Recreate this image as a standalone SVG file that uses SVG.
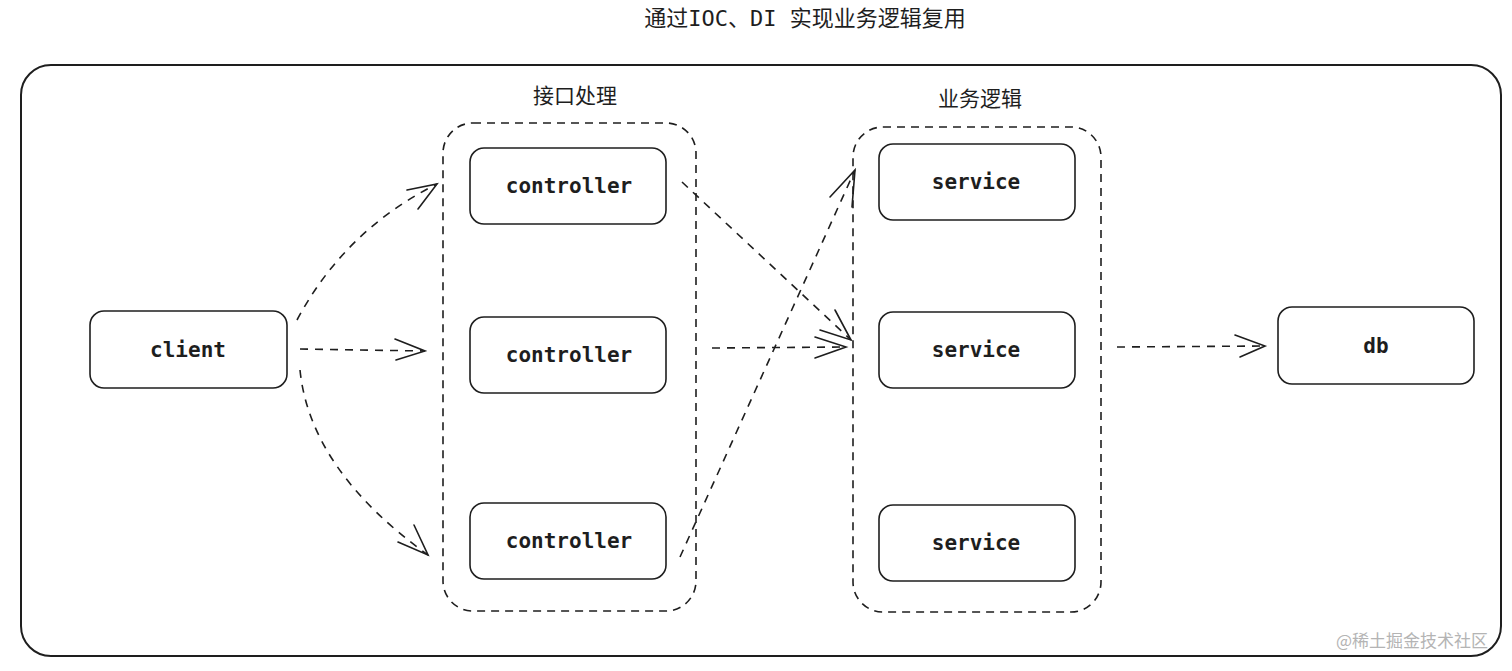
<svg xmlns="http://www.w3.org/2000/svg" width="1512" height="671" viewBox="0 0 1512 671">
<style>
.box{fill:#fff;stroke:#1e1e1e;stroke-width:1.6}
.grp{fill:none;stroke:#1e1e1e;stroke-width:1.6;stroke-dasharray:8 6}
.lbl{font-family:"DejaVu Sans Mono","Liberation Mono","Noto Sans CJK SC",monospace;font-size:21px;font-weight:bold;fill:#1e1e1e;text-anchor:middle;dominant-baseline:central}
.cap{font-family:"Noto Sans CJK SC",sans-serif;font-size:21px;fill:#1e1e1e;text-anchor:middle;dominant-baseline:central}
.conn path{fill:none;stroke:#1e1e1e;stroke-width:1.6;stroke-dasharray:8 7}
.conn .ah{stroke-dasharray:none;stroke-linecap:round}
</style>
<rect width="1512" height="671" fill="#fff"/>
<text x="805" y="18" class="cap" style="font-family:'DejaVu Sans Mono','Noto Sans CJK SC',monospace;font-size:22px">通过IOC、DI 实现业务逻辑复用</text>
<g id="frame"><rect x="21" y="65" width="1480" height="591" rx="30" fill="none" stroke="#1e1e1e" stroke-width="2"/></g>
<g id="group-interface"><rect class="grp" x="443" y="123" width="253" height="488" rx="30"/><text class="cap" x="575" y="94">接口处理</text></g>
<g id="group-business"><rect class="grp" x="853" y="127" width="248" height="485" rx="30"/><text class="cap" x="980" y="97">业务逻辑</text></g>
<g id="client"><rect class="box" x="90" y="311" width="197" height="77" rx="14"/><text class="lbl" x="188" y="350">client</text></g>
<g id="controller1"><rect class="box" x="470" y="148" width="196" height="76" rx="14"/><text class="lbl" x="569" y="186">controller</text></g>
<g id="controller2"><rect class="box" x="470" y="317" width="196" height="76" rx="14"/><text class="lbl" x="569" y="355">controller</text></g>
<g id="controller3"><rect class="box" x="470" y="503" width="196" height="76" rx="14"/><text class="lbl" x="569" y="541">controller</text></g>
<g id="service1"><rect class="box" x="879" y="144" width="196" height="76" rx="14"/><text class="lbl" x="976" y="182">service</text></g>
<g id="service2"><rect class="box" x="879" y="312" width="196" height="76" rx="14"/><text class="lbl" x="976" y="350">service</text></g>
<g id="service3"><rect class="box" x="879" y="505" width="196" height="76" rx="14"/><text class="lbl" x="976" y="543">service</text></g>
<g id="db"><rect class="box" x="1278" y="307" width="196" height="77" rx="14"/><text class="lbl" x="1376" y="346">db</text></g>
<g id="connectors" class="conn">
<path d="M297 320 Q345 230 437 184"/><path class="ah" d="M407 190 L437 184 L418 209"/>
<path d="M300 349 L425 351"/><path class="ah" d="M395 339 L425 351 L396 360"/>
<path d="M300 370 Q310 470 428 555"/><path class="ah" d="M398 542 L428 555 L414 525"/>
<path d="M682 182 L851 340"/><path class="ah" d="M820 330 L851 340 L835 310"/>
<path d="M712 348 L846 347"/><path class="ah" d="M815 337 L846 347 L815 358"/>
<path d="M680 557 L855 170"/><path class="ah" d="M830 197 L855 170 L852 207"/>
<path d="M1117 347 L1265 346"/><path class="ah" d="M1235 335 L1265 346 L1240 357"/>
</g>
<text x="1412" y="639" style="font-family:'Noto Sans CJK SC',sans-serif;font-size:17px;fill:#b4b4b4;text-anchor:middle;dominant-baseline:central">@稀土掘金技术社区</text>
</svg>
